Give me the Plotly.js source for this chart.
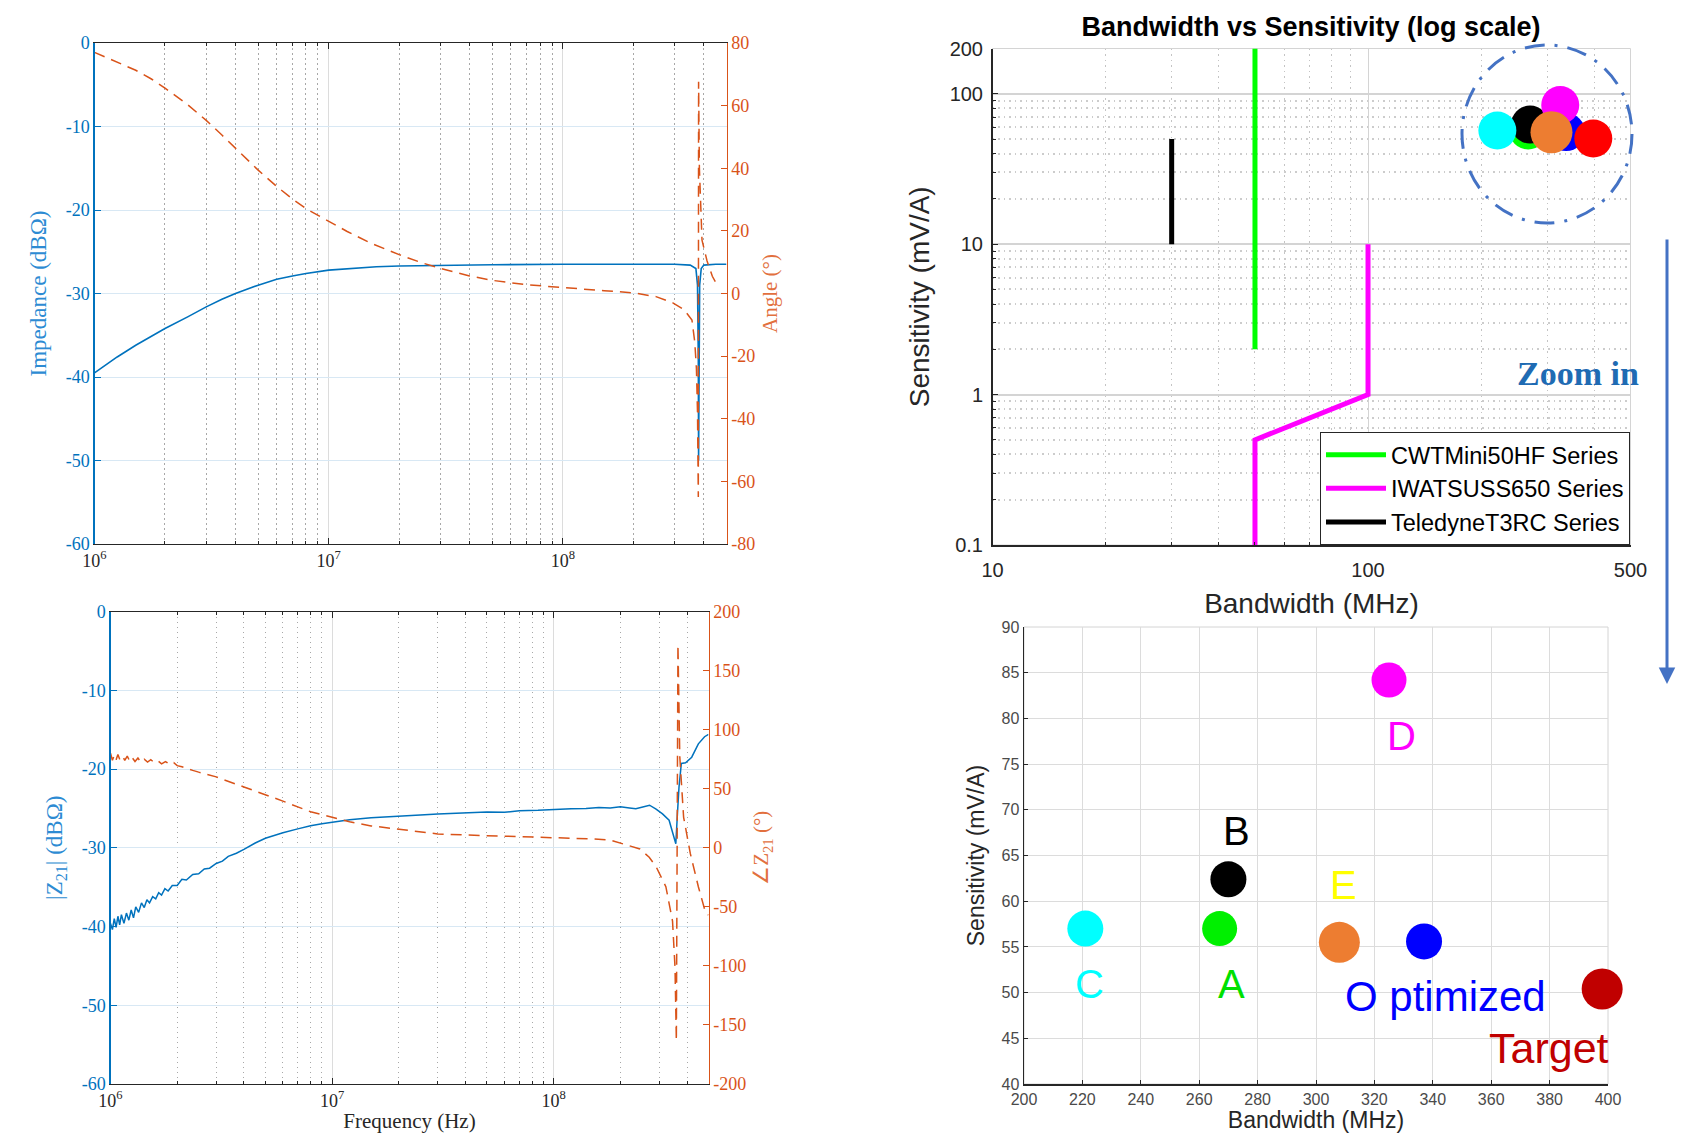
<!DOCTYPE html>
<html>
<head>
<meta charset="utf-8">
<script src="https://cdn.plot.ly/plotly-3.0.1.min.js"></script>
<style>
html,body{margin:0;padding:0;background:#ffffff;}
#chart{width:1688px;height:1133px;}
</style>
</head>
<body>
<div id="chart"></div>
<script>
// ---------- Panel (a): impedance / angle (simulated) ----------
const freqImp = [1e6, 1.25e6, 1.5e6, 1.75e6, 2e6, 2.5e6, 3e6, 3.5e6, 4e6, 5e6, 6e6, 7e6, 8e6, 1e7, 1.3e7, 1.6e7, 2e7, 3e7, 5e7, 1e8, 2e8, 3e8, 3.5e8, 3.7e8, 3.76e8, 3.79e8, 3.8e8, 3.81e8, 3.84e8, 3.9e8, 4e8, 4.5e8, 5e8];
const impedanceDb = [-39.5, -37.6, -36.2, -35.1, -34.2, -32.8, -31.6, -30.7, -30.0, -29.0, -28.3, -27.9, -27.6, -27.2, -26.95, -26.8, -26.7, -26.6, -26.55, -26.5, -26.5, -26.5, -26.6, -27.0, -29, -38, -50, -38, -29, -27.0, -26.6, -26.5, -26.5];
const freqAngle = [1e6, 1.25e6, 1.5e6, 1.75e6, 2e6, 2.5e6, 3e6, 3.5e6, 4e6, 4.5e6, 5e6, 6e6, 7e6, 8e6, 9e6, 1e7, 1.2e7, 1.5e7, 2e7, 2.5e7, 3e7, 4e7, 5e7, 7e7, 1e8, 1.5e8, 2e8, 2.5e8, 2.95e8, 3.3e8, 3.56e8, 3.66e8, 3.72e8, 3.76e8, 3.79e8, 3.8e8, 3.83e8, 3.93e8, 4.13e8, 4.35e8, 4.55e8];
const angleDeg = [77, 74, 71.3, 68.5, 65.6, 60.3, 55.3, 50.6, 46.4, 42.7, 39.4, 34.2, 30.2, 27.1, 24.9, 23.0, 19.8, 16.2, 12.4, 9.8, 8.0, 5.6, 4.2, 2.8, 1.8, 0.9, 0.2, -1.0, -3, -5.2, -8.5, -15.5, -24, -38, -65, 67.6, 40, 17, 10.4, 5.5, 2.9];

// ---------- Panel (b): |Z21| / angle Z21 (measured) ----------
const freqZ21 = [1e6, 1.02e6, 1.04e6, 1.06e6, 1.08e6, 1.1e6, 1.12e6, 1.15e6, 1.18e6, 1.21e6, 1.24e6, 1.27e6, 1.3e6, 1.34e6, 1.38e6, 1.42e6, 1.46e6, 1.5e6, 1.55e6, 1.6e6, 1.65e6, 1.7e6, 1.76e6, 1.82e6, 1.9e6, 2e6, 2.1e6, 2.2e6, 2.35e6, 2.5e6, 2.65e6, 2.8e6, 3e6, 3.2e6, 3.4e6, 3.7e6, 4e6, 4.5e6, 5e6, 5.5e6, 6e6, 7e6, 8e6, 9e6, 1e7, 1.2e7, 1.5e7, 2e7, 2.5e7, 3e7, 4e7, 5e7, 6e7, 7e7, 8.5e7, 1e8, 1.2e8, 1.4e8, 1.6e8, 1.8e8, 2e8, 2.2e8, 2.35e8, 2.5e8, 2.71e8, 2.9e8, 3.1e8, 3.32e8, 3.44e8, 3.56e8, 3.62e8, 3.68e8, 3.77e8, 3.94e8, 4.2e8, 4.5e8, 4.8e8, 5e8];
const z21Db = [-39.6, -40.4, -39.0, -40.1, -38.7, -39.8, -38.5, -39.6, -38.3, -39.2, -37.9, -38.9, -37.5, -38.2, -37.0, -37.6, -36.6, -37.0, -36.2, -36.5, -35.7, -36.0, -35.2, -35.5, -34.8, -34.8, -34.0, -34.1, -33.4, -33.3, -32.7, -32.6, -32.0, -31.7, -31.1, -30.7, -30.2, -29.4, -28.8, -28.4, -28.1, -27.6, -27.2, -26.95, -26.75, -26.45, -26.2, -25.95, -25.85, -25.7, -25.6, -25.45, -25.5, -25.3, -25.25, -25.2, -25.05, -25.0, -24.9, -24.95, -24.8, -24.95, -25.05, -24.85, -24.6, -25.1, -25.7, -26.5, -28.2, -29.5, -25.7, -22.3, -19.3, -19.2, -18.5, -16.8, -15.9, -15.6];
const freqZ21Angle = [1e6, 1.02e6, 1.04e6, 1.06e6, 1.08e6, 1.1e6, 1.13e6, 1.16e6, 1.19e6, 1.22e6, 1.25e6, 1.29e6, 1.33e6, 1.37e6, 1.42e6, 1.47e6, 1.52e6, 1.58e6, 1.64e6, 1.7e6, 1.77e6, 1.85e6, 1.93e6, 2e6, 2.1e6, 2.2e6, 2.35e6, 2.5e6, 2.75e6, 3e6, 3.25e6, 3.5e6, 4e6, 4.5e6, 5e6, 5.5e6, 6e6, 7e6, 8e6, 9e6, 1e7, 1.2e7, 1.5e7, 2e7, 2.5e7, 3e7, 4e7, 5e7, 7e7, 1e8, 1.5e8, 1.8e8, 2.0e8, 2.2e8, 2.45e8, 2.7e8, 2.9e8, 3.21e8, 3.44e8, 3.53e8, 3.58e8, 3.64e8, 3.71e8, 3.86e8, 4.14e8, 4.5e8, 4.85e8, 5e8];
const z21AngleDeg = [80, 74, 78.5, 74.5, 79, 75, 78, 74, 77.5, 73.5, 76.5, 73, 76, 72.5, 75, 72.5, 74.5, 72, 73.5, 71, 73, 70.5, 72, 69.5, 68.5, 67, 65.5, 64, 62, 60, 57.5, 55.5, 51.5, 48, 45, 42, 39.5, 34.6, 30.5, 28, 25.8, 22, 18.5, 15.5, 13.2, 11.7, 10.8, 10.3, 9.5, 8.8, 7.5, 6.5, 4, 1.5, -1, -8, -16, -33, -62, -101, -163.5, 172, 77, 26, -5, -33, -55, -57];

// ---------- Panel (c): commercial probe series (log scale) ----------
const cwtBw = [50, 50];              const cwtSens = [2, 200];
const iwatsuBw = [50, 50, 100, 100]; const iwatsuSens = [0.1, 0.5, 1, 10];
const teledyneBw = [30, 30];         const teledyneSens = [10, 50];
const seriesNames = ['CWTMini50HF Series', 'IWATSUSS650 Series', 'TeledyneT3RC Series'];

// ---------- Designs (panel c cluster and panel d zoom) ----------
const designNames = ['A', 'B', 'C', 'D', 'E', 'O ptimized', 'Target'];
const designBw = [267, 270, 221, 325, 308, 337, 398];
const designSens = [57, 62.4, 57, 84.2, 55.5, 55.6, 50.4];

// ---------- Tick labels ----------
const freqTicks = [1e6, 1e7, 1e8];
const freqTickText = ['10<sup>6</sup>', '10<sup>7</sup>', '10<sup>8</sup>'];
const freqMinor = [2e6,3e6,4e6,5e6,6e6,7e6,8e6,9e6,2e7,3e7,4e7,5e7,6e7,7e7,8e7,9e7,2e8,3e8,4e8];
const dbTicks = [0, -10, -20, -30, -40, -50, -60];
const angleTicksA = [80, 60, 40, 20, 0, -20, -40, -60, -80];
const angleTicksB = [200, 150, 100, 50, 0, -50, -100, -150, -200];
const bwLogTicks = [10, 100, 500];
const bwLogMinor = [20,30,40,50,60,70,80,90,200,300,400];
const sensLogTicks = [0.1, 1, 10, 100, 200];
const sensLogMinor = [0.2,0.3,0.4,0.5,0.6,0.7,0.8,0.9,2,3,4,5,6,7,8,9,20,30,40,50,60,70,80,90];

// ---------- Styles ----------
const serif = '"Liberation Serif", "Times New Roman", serif';
const sans = '"Liberation Sans", Arial, sans-serif';
const mBlue = '#0072BD';
const mOrange = '#D95319';
const W = 1688, H = 1133;
const px = v => v / W;
const py = v => 1 - v / H;

const markerColorsTop = {A:'#00FF00', B:'#000000', C:'#00FFFF', D:'#FF00FF', E:'#ED7D31', 'O ptimized':'#0000FF', Target:'#FF0000'};
const markerColorsBot = {A:'#00F000', B:'#000000', C:'#00FFFF', D:'#FF00FF', E:'#ED7D31', 'O ptimized':'#0000FF', Target:'#C00000'};
const labelColors = {A:'#00E000', B:'#000000', C:'#00FFFF', D:'#FF00FF', E:'#FFFF00', 'O ptimized':'#0000FF', Target:'#C00000'};
const markerSizeTop = {A:38, B:38, C:38, D:38, E:42, 'O ptimized':38, Target:38};
const markerSizeBot = {A:35, B:36, C:36, D:35, E:41, 'O ptimized':36, Target:41};
const labelShift = {A:[12,-55], B:[8,48], C:[4,-55], D:[12,-56], E:[4,57], 'O ptimized':[21,-55], Target:[-53,-59]};
const labelSize = {A:40, B:40, C:40, D:40, E:40, 'O ptimized':42, Target:43};
const topDrawOrder = ['A', 'B', 'O ptimized', 'D', 'C', 'Target', 'E'];

const traces = [];
// panel a
traces.push({x: freqImp, y: impedanceDb, xaxis:'x', yaxis:'y', mode:'lines', showlegend:false,
  line:{color:mBlue, width:1.6}});
traces.push({x: freqAngle, y: angleDeg, xaxis:'x', yaxis:'y2', mode:'lines', showlegend:false,
  line:{color:mOrange, width:1.5, dash:'11px,7px'}});
// panel b
traces.push({x: freqZ21, y: z21Db, xaxis:'x2', yaxis:'y3', mode:'lines', showlegend:false,
  line:{color:mBlue, width:1.5}});
traces.push({x: freqZ21Angle, y: z21AngleDeg, xaxis:'x2', yaxis:'y4', mode:'lines', showlegend:false,
  line:{color:mOrange, width:1.5, dash:'11px,7px'}});
// panel c lines
traces.push({x: cwtBw, y: cwtSens, xaxis:'x3', yaxis:'y5', mode:'lines', name: seriesNames[0],
  line:{color:'#00FF00', width:5}});
traces.push({x: iwatsuBw, y: iwatsuSens, xaxis:'x3', yaxis:'y5', mode:'lines', name: seriesNames[1],
  line:{color:'#FF00FF', width:5}});
traces.push({x: teledyneBw, y: teledyneSens, xaxis:'x3', yaxis:'y5', mode:'lines', name: seriesNames[2],
  line:{color:'#000000', width:5}});
// panel c markers
topDrawOrder.forEach(n => {
  const i = designNames.indexOf(n);
  traces.push({x:[designBw[i]], y:[designSens[i]], xaxis:'x3', yaxis:'y5', mode:'markers', showlegend:false,
    cliponaxis:false, marker:{color:markerColorsTop[n], size:markerSizeTop[n], line:{width:0}}});
});
// panel d markers
designNames.forEach((n, i) => {
  traces.push({x:[designBw[i]], y:[designSens[i]], xaxis:'x4', yaxis:'y6', mode:'markers', showlegend:false,
    cliponaxis:false, marker:{color:markerColorsBot[n], size:markerSizeBot[n], line:{width:0}}});
});

const annotations = designNames.map((n, i) => ({
  x: designBw[i], y: designSens[i], xref:'x4', yref:'y6', text: n, showarrow:false,
  xanchor:'center', yanchor:'middle',
  xshift: labelShift[n][0], yshift: labelShift[n][1],
  font:{family:sans, size:labelSize[n], color:labelColors[n]}
}));
annotations.push({x: px(1578), y: py(373), xref:'paper', yref:'paper', xanchor:'center', yanchor:'middle',
  text:'<b>Zoom in</b>', showarrow:false, font:{family:serif, size:34, color:'#1F6BB3'}});
annotations.push({x: px(1667), y: py(684), xref:'paper', yref:'paper', ax:0, ay:-446, text:'', showarrow:true,
  arrowhead:2, arrowsize:1.1, arrowwidth:3, arrowcolor:'#4472C4'});

const shapes = [
  {type:'circle', xref:'paper', yref:'paper', x0:px(1547-85), x1:px(1547+85), y0:py(134+89), y1:py(134-89),
   line:{color:'#4472C4', width:3, dash:'20px,10px,3px,10px'}},
  {type:'rect', xref:'x3 domain', yref:'y5 domain', x0:0, x1:1, y0:0, y1:1, layer:'below', line:{color:'#d4d4d4', width:1}},
  {type:'rect', xref:'x4 domain', yref:'y6 domain', x0:0, x1:1, y0:0, y1:1, layer:'below', line:{color:'#d4d4d4', width:1}}
];

const freqAxis = (dom, anchor) => ({
  domain: dom, anchor: anchor, type:'log', range:[6, Math.log10(5e8)],
  tickmode:'array', tickvals: freqTicks, ticktext: freqTickText,
  tickfont:{family:serif, size:18, color:'#262626'},
  showline:true, mirror:'ticks', linecolor:'#262626', linewidth:1,
  ticks:'inside', ticklen:6, tickcolor:'#262626',
  showgrid:true, gridcolor:'#dcdcdc', gridwidth:1, zeroline:false, automargin:false,
  minor:{tickmode:'array', tickvals: freqMinor, showgrid:true, griddash:'1.5px,3.5px', gridcolor:'#a8a8a8', gridwidth:1,
         ticks:'inside', ticklen:3, tickcolor:'#262626'}
});

const leftDbAxis = (dom, anchor, titleText) => ({
  domain: dom, anchor: anchor, range:[-60, 0], tickmode:'array', tickvals: dbTicks, ticktext: dbTicks.map(String),
  tickfont:{family:serif, size:18, color:mBlue}, showline:true, linecolor:mBlue, linewidth:1.2,
  ticks:'inside', ticklen:6, tickcolor:mBlue, showgrid:true, gridcolor:'#d8e8f4', zeroline:false, automargin:false,
  title:{text: titleText, font:{family:serif, size:23, color:'#2D8BD3'}, standoff:12}
});

const rightAngleAxis = (over, anchor, range, ticks, titleText) => ({
  overlaying: over, side:'right', anchor: anchor, range: range,
  tickmode:'array', tickvals: ticks, ticktext: ticks.map(String),
  tickfont:{family:serif, size:18, color:mOrange}, showline:true, linecolor:mOrange, linewidth:1.2,
  ticks:'inside', ticklen:6, tickcolor:mOrange, showgrid:false, zeroline:false, automargin:false,
  title:{text: titleText, font:{family:serif, size:21, color:'#E2703E'}, standoff:8}
});

const layout = {
  width: W, height: H, margin:{l:0, r:0, t:0, b:0},
  paper_bgcolor:'#ffffff', plot_bgcolor:'rgba(0,0,0,0)',
  font:{family:sans},
  title:{text:'<b>Bandwidth vs Sensitivity (log scale)</b>', x: px(1311), xanchor:'center', xref:'paper',
         y: py(27), yanchor:'middle', yref:'paper', font:{family:sans, size:27, color:'#000000'}},
  showlegend:true,
  legend:{x: px(1630), xanchor:'right', y: py(545), yanchor:'bottom', bgcolor:'#ffffff',
          bordercolor:'#262626', borderwidth:1, font:{family:sans, size:23.5, color:'#000000'},
          itemwidth:60, tracegroupgap:0},
  // panel a
  xaxis: freqAxis([px(94.5), px(726.5)], 'y'),
  yaxis: leftDbAxis([py(544), py(43)], 'x', 'Impedance (dBΩ)'),
  yaxis2: rightAngleAxis('y', 'x', [-80, 80], angleTicksA, 'Angle (°)'),
  // panel b
  xaxis2: Object.assign(freqAxis([px(110.5), px(708.5)], 'y3'), {
    title:{text:'Frequency (Hz)', font:{family:serif, size:21, color:'#262626'}, standoff:4}}),
  yaxis3: leftDbAxis([py(1084), py(611.5)], 'x2', '|Z<sub>21</sub>| (dBΩ)'),
  yaxis4: rightAngleAxis('y3', 'x2', [-200, 200], angleTicksB, '∠Z<sub>21</sub> (°)'),
  // panel c
  xaxis3: {domain:[px(992.5), px(1630.5)], anchor:'y5', type:'log', range:[1, Math.log10(500)],
    tickmode:'array', tickvals: bwLogTicks, ticktext: bwLogTicks.map(String),
    tickfont:{family:sans, size:20, color:'#262626'}, ticklabelstandoff:6,
    showline:true, linecolor:'#262626', linewidth:1.5,
    ticks:'inside', ticklen:5, tickcolor:'#262626', showgrid:true, gridcolor:'#d4d4d4', zeroline:false, automargin:false,
    minor:{tickmode:'array', tickvals: bwLogMinor, showgrid:true, griddash:'1.5px,4px', gridcolor:'#c4c4c4', ticks:'inside', ticklen:3, tickcolor:'#262626'},
    title:{text:'Bandwidth (MHz)', font:{family:sans, size:28, color:'#262626'}, standoff:14}},
  yaxis5: {domain:[py(545), py(48.5)], anchor:'x3', type:'log', range:[-1, Math.log10(200)],
    tickmode:'array', tickvals: sensLogTicks, ticktext: sensLogTicks.map(String),
    tickfont:{family:sans, size:20, color:'#262626'}, ticklabelstandoff:4,
    showline:true, linecolor:'#262626', linewidth:1.5,
    ticks:'inside', ticklen:5, tickcolor:'#262626', showgrid:true, gridcolor:'#d4d4d4', gridwidth:2, zeroline:false, automargin:false,
    minor:{tickmode:'array', tickvals: sensLogMinor, showgrid:true, griddash:'1.5px,4px', gridcolor:'#cccccc', ticks:'inside', ticklen:3, tickcolor:'#262626'},
    title:{text:'Sensitivity (mV/A)', font:{family:sans, size:28, color:'#262626'}, standoff:12}},
  // panel d
  xaxis4: {domain:[px(1024), px(1608)], anchor:'y6', range:[200, 400], tickmode:'linear', tick0:200, dtick:20,
    tickfont:{family:sans, size:16, color:'#4a4a4a'}, showline:true, linecolor:'#262626', linewidth:1.5,
    ticks:'inside', ticklen:4, tickcolor:'#262626', showgrid:true, gridcolor:'#dcdcdc', zeroline:false, automargin:false,
    title:{text:'Bandwidth (MHz)', font:{family:sans, size:23, color:'#262626'}, standoff:6}},
  yaxis6: {domain:[py(1084), py(627)], anchor:'x4', range:[40, 90], tickmode:'linear', tick0:40, dtick:5,
    tickfont:{family:sans, size:16, color:'#4a4a4a'}, showline:true, linecolor:'#262626', linewidth:1.5,
    ticks:'inside', ticklen:4, tickcolor:'#262626', showgrid:true, gridcolor:'#dcdcdc', zeroline:false, automargin:false,
    title:{text:'Sensitivity (mV/A)', font:{family:sans, size:23, color:'#262626'}, standoff:10}},
  annotations: annotations,
  shapes: shapes
};

Plotly.newPlot('chart', traces, layout, {staticPlot:true, displayModeBar:false});
</script>
</body>
</html>
